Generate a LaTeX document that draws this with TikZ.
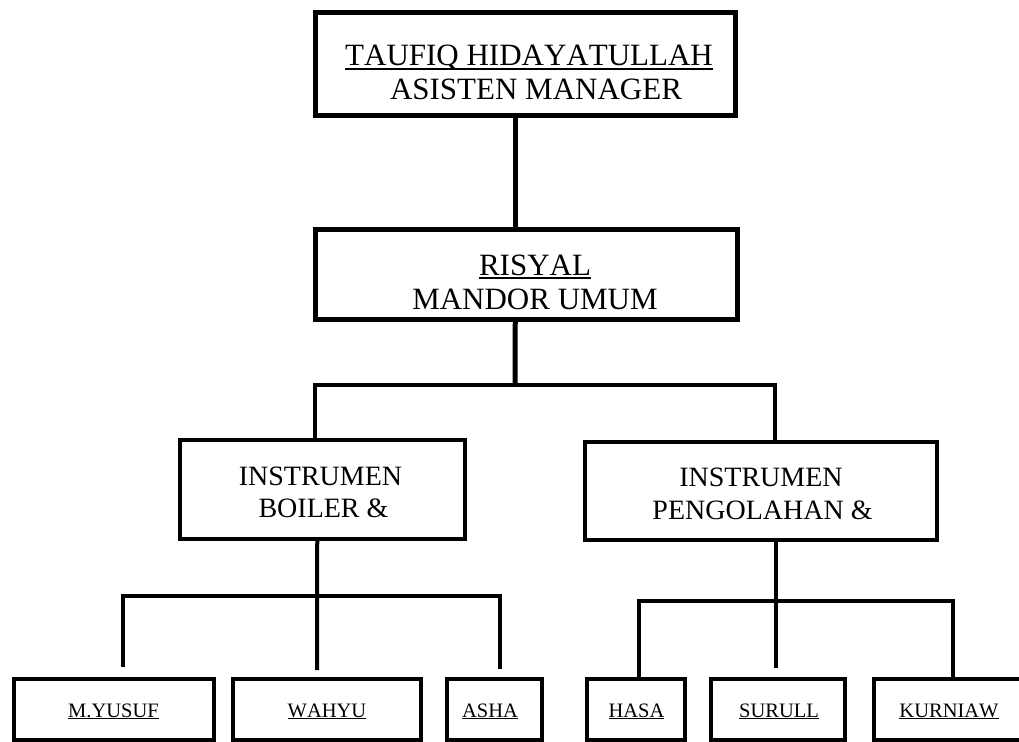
\documentclass[tikz,border=0pt]{standalone}
\usepackage{fontspec}
\setmainfont{Liberation Serif}[Kerning=Off]
\newcommand{\ulx}[1]{\setbox0=\hbox{#1}\rlap{\rule[-0.12em]{\wd0}{0.05em}}\box0}
\tikzset{
  boxA/.style={draw=black, line width=5pt, fill=white, inner sep=0pt, rectangle},
  boxB/.style={draw=black, line width=4pt, fill=white, inner sep=0pt, rectangle},
  connA/.style={draw=black, line width=5pt},
  connB/.style={draw=black, line width=4pt},
  bigtxt/.style={anchor=base, inner sep=0pt, font=\fontsize{31}{34}\selectfont},
  midtxt/.style={anchor=base, inner sep=0pt, font=\fontsize{28}{32}\selectfont},
  smalltxt/.style={anchor=base, inner sep=0pt, font=\fontsize{20.5}{24}\selectfont},
}
\begin{document}
\begin{tikzpicture}[x=1pt,y=-1pt]
\useasboundingbox (0,0) rectangle (1019,741);
\clip (0,0) rectangle (1019,741);
\fill[white] (0,0) rectangle (1019,741);

% boxes
\node[boxA, minimum width=420pt, minimum height=103pt] (top) at (525.5,64) {};
\node[boxA, minimum width=421.5pt, minimum height=90pt] (mid) at (526.25,274.5) {};
\node[boxB, minimum width=285.5pt, minimum height=99pt] (boil) at (322.25,489.5) {};
\node[boxB, minimum width=352pt, minimum height=98.5pt] (peng) at (761,490.75) {};
\node[boxB, minimum width=200pt, minimum height=61pt] (yusuf) at (114,709.5) {};
\node[boxB, minimum width=187.5pt, minimum height=61pt] (wahyu) at (326.75,709.5) {};
\node[boxB, minimum width=95pt, minimum height=61pt] (asha) at (494.5,709.5) {};
\node[boxB, minimum width=98pt, minimum height=61pt] (hasa) at (636,709.5) {};
\node[boxB, minimum width=134pt, minimum height=61pt] (surull) at (778,709.5) {};
\node[boxB, minimum width=186pt, minimum height=61pt] (kurn) at (967,709.5) {};

% junction coordinates
\coordinate (busA) at (515,385);
\coordinate (busB) at (317,596);
\coordinate (busC) at (776,600.5);

% connectors
\draw[connA] ([xshift=-10.5pt]top.south) -- ([xshift=-11.25pt]mid.north);
\draw[connA] ([xshift=-11pt]mid.south) -- (busA);
\draw[connB] ([xshift=-7pt]boil.north) |- (busA) -| ([xshift=14pt]peng.north);
\draw[connB] ([xshift=-5pt]boil.south) -- ([xshift=-9.75pt,yshift=7pt]wahyu.north);
\draw[connB] ([xshift=9pt,yshift=10pt]yusuf.north) |- (busB) -| ([xshift=5pt,yshift=8pt]asha.north);
\draw[connB] ([xshift=15pt]peng.south) -- ([xshift=-2pt,yshift=9pt]surull.north);
\draw[connB] ([xshift=2.5pt]hasa.north) |- (busC) -| ([xshift=-14pt,yshift=-1pt]kurn.north);

% texts
\node[bigtxt] (t1a) at (529,66) {\ulx{TAUFIQ HIDAYATULLAH}};
\node[bigtxt] (t1b) at (536,100) {ASISTEN MANAGER};
\node[bigtxt] (t2a) at (535,275) {\ulx{RISYAL}};
\node[bigtxt] (t2b) at (535,309) {MANDOR UMUM};
\node[midtxt] (t3a) at (320.5,485) {INSTRUMEN};
\node[midtxt] (t3b) at (323.5,517) {BOILER \&};
\node[midtxt] (t4a) at (761,486) {INSTRUMEN};
\node[midtxt] (t4b) at (762.5,519) {PENGOLAHAN \&};
\node[smalltxt] (t5) at (113.5,717) {\ulx{M.YUSUF}};
\node[smalltxt] (t6) at (327,717) {\ulx{WAHYU}};
\node[smalltxt] (t7) at (490,717) {\ulx{ASHA}};
\node[smalltxt] (t8) at (636.5,717) {\ulx{HASA}};
\node[smalltxt] (t9) at (779,717) {\ulx{SURULL}};
\node[smalltxt] (t10) at (949,717) {\ulx{KURNIAW}};
\end{tikzpicture}
\end{document}
